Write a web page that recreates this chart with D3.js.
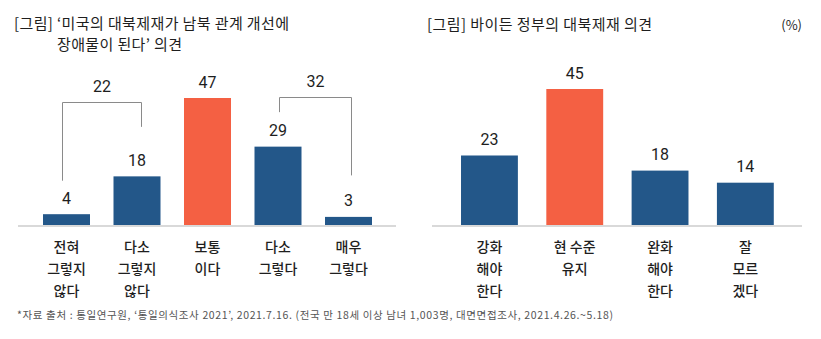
<!DOCTYPE html>
<html><head><meta charset="utf-8">
<script src="https://cdn.jsdelivr.net/npm/d3@7"></script>
<style>
html,body{margin:0;padding:0;background:#fff;}
svg{display:block;}
.kr{font-family:"Noto Sans CJK KR","Noto Sans",sans-serif;}
.num{font-family:Roboto,"Noto Sans",sans-serif;}
</style></head>
<body>
<svg id="chart" width="821" height="339"></svg>
<script>
// ---------- data ----------
const leftCategories = [["전혀","그렇지","않다"],["다소","그렇지","않다"],["보통","이다"],["다소","그렇다"],["매우","그렇다"]];
const leftValues = [4, 18, 47, 29, 3];
const leftHighlight = [false, false, true, false, false];
const leftBrackets = [{from:0, to:1, value:22}, {from:3, to:4, value:32}];

const rightCategories = [["강화","해야","한다"],["현 수준","유지"],["완화","해야","한다"],["잘","모르","겠다"]];
const rightValues = [23, 45, 18, 14];
const rightHighlight = [false, true, false, false];

const leftTitle = ["[그림] ‘미국의 대북제재가 남북 관계 개선에", "장애물이 된다’ 의견"];
const rightTitle = "[그림] 바이든 정부의 대북제재 의견";
const unitLabel = "(%)";
const footnote = "*자료 출처 : 통일연구원, ‘통일의식조사 2021’, 2021.7.16. (전국 만 18세 이상 남녀 1,003명, 대면면접조사, 2021.4.26.~5.18)";

// ---------- style ----------
const BLUE = "#235789", ORANGE = "#f46043", AXIS = "#b4b4b4", BRACKET = "#8a8a8a", TEXT = "#1e1e1e";

const svg = d3.select("#chart");

function fitWidth(sel, target){
  const n = sel.text().length;
  const w = sel.node().getComputedTextLength();
  sel.attr("letter-spacing", ((target - w) / Math.max(1, n - 1)).toFixed(3) + "px");
}

function drawPanel(cfg){
  const idx = d3.range(cfg.values.length);
  const x = d3.scaleBand().domain(idx).range(cfg.xRange).paddingInner(1/3).paddingOuter(1/6);
  const y = d3.scaleLinear().domain([0, 50]).range(cfg.yRange);
  const g = svg.append("g");

  g.selectAll("rect.bar").data(idx).join("rect")
    .attr("x", i => x(i)).attr("width", x.bandwidth())
    .attr("y", i => y(cfg.values[i])).attr("height", i => y(0) - y(cfg.values[i]))
    .attr("fill", i => cfg.highlight[i] ? ORANGE : BLUE);

  // axis baseline
  const axis = d3.axisBottom(x).tickSize(0).tickFormat("");
  const ag = g.append("g").attr("transform", `translate(0,${y(0) + 1})`).call(axis);
  ag.select(".domain").remove();
  ag.append("line").attr("x1", cfg.axisX[0]).attr("x2", cfg.axisX[1])
    .attr("stroke", AXIS).attr("stroke-width", 1.2);

  // value labels
  g.selectAll("text.val").data(idx).join("text")
    .attr("class", "num").attr("text-anchor", "middle")
    .attr("x", i => x(i) + x.bandwidth()/2).attr("y", i => y(cfg.values[i]) - 10.5)
    .attr("font-size", 16).attr("fill", TEXT)
    .text(i => cfg.values[i]);

  // category labels
  const cg = g.selectAll("text.cat").data(idx).join("text")
    .attr("class", "kr").attr("text-anchor", "middle")
    .attr("font-size", 14).attr("font-weight", 500).attr("fill", TEXT)
    .attr("x", i => x(i) + x.bandwidth()/2).attr("y", 252);
  cg.selectAll("tspan").data(i => cfg.categories[i].map(t => ({t, i}))).join("tspan")
    .attr("x", d => x(d.i) + x.bandwidth()/2)
    .attr("dy", (d, k) => k === 0 ? 0 : 22)
    .text(d => d.t);
  return {x, y, g};
}

const L = drawPanel({values:leftValues, categories:leftCategories, highlight:leftHighlight,
  xRange:[31.25, 383.75], yRange:[225, 225 - 2.702*50], axisX:[18, 396]});
const R = drawPanel({values:rightValues, categories:rightCategories, highlight:rightHighlight,
  xRange:[446.8, 788], yRange:[225, 225 - 3.022*50], axisX:[432, 802]});

// brackets on left panel
const bracketLayout = [
  {top:102.5, dx:[-5, 4], legGap:[33.5, 49.5]},
  {top:97.5, dx:[1, 2], legGap:[34.5, 41.5]}
];
leftBrackets.forEach((b, k) => {
  const lay = bracketLayout[k];
  const cx = i => L.x(i) + L.x.bandwidth()/2;
  const x1 = Math.round(cx(b.from) + lay.dx[0]) + 0.5, x2 = Math.round(cx(b.to) + lay.dx[1]) + 0.5;
  const y1 = L.y(leftValues[b.from]) - lay.legGap[0], y2 = L.y(leftValues[b.to]) - lay.legGap[1];
  L.g.append("path")
    .attr("d", `M${x1},${y1}V${lay.top}H${x2}V${y2}`)
    .attr("fill", "none").attr("stroke", BRACKET).attr("stroke-width", 1);
  L.g.append("text").attr("class", "num").attr("text-anchor", "middle")
    .attr("x", (x1 + x2)/2).attr("y", lay.top - 10.5)
    .attr("font-size", 16).attr("fill", TEXT).text(b.value);
});

// titles
const t1 = svg.append("text").attr("class", "kr").attr("x", 14).attr("y", 29)
  .attr("font-size", 15).attr("fill", TEXT).text(leftTitle[0]);
fitWidth(t1, 275);
const t2 = svg.append("text").attr("class", "kr").attr("x", 57).attr("y", 50)
  .attr("font-size", 15).attr("fill", TEXT).text(leftTitle[1]);
fitWidth(t2, 125);
const t3 = svg.append("text").attr("class", "kr").attr("x", 427).attr("y", 30)
  .attr("font-size", 15).attr("fill", TEXT).text(rightTitle);
fitWidth(t3, 225);
svg.append("text").attr("class", "kr").attr("x", 802).attr("y", 30).attr("text-anchor", "end")
  .attr("font-size", 13).attr("fill", TEXT).text(unitLabel);

// footnote
const fn = svg.append("text").attr("class", "kr").attr("x", 17).attr("y", 319)
  .attr("font-size", 10.5).attr("fill", "#555").text(footnote);
fitWidth(fn, 596);
</script>
</body></html>
